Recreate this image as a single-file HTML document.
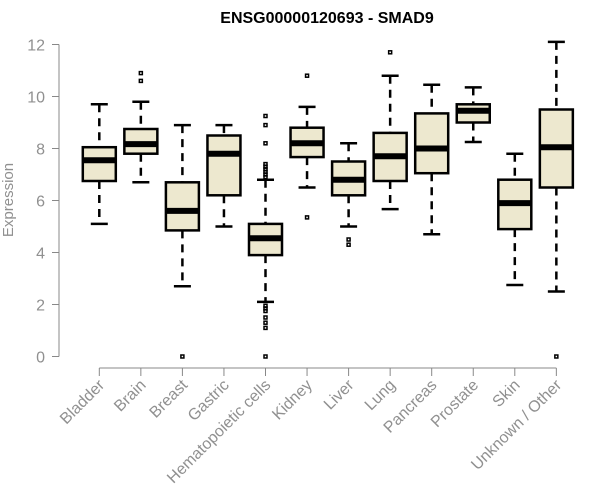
<!DOCTYPE html>
<html><head><meta charset="utf-8"><style>
body{margin:0;background:#fff}
svg{display:block;font-family:"Liberation Sans",Arial,sans-serif}
</style></head><body>
<svg id="chart" width="600" height="500" viewBox="0 0 600 500">
<text x="327" y="23" text-anchor="middle" font-weight="bold" font-size="16" fill="#000">ENSG00000120693 - SMAD9</text>
<text transform="translate(13,200) rotate(-90)" text-anchor="middle" font-size="15" fill="#909090">Expression</text>
<g id="yaxis"></g>
<g id="xaxis"></g>
<g id="boxes"></g>
</svg>
<script>
const categories=["Bladder","Brain","Breast","Gastric","Hematopoietic cells","Kidney","Liver","Lung","Pancreas","Prostate","Skin","Unknown / Other"];
const whiskerLow=[5.1,6.7,2.7,5.0,2.1,6.5,5.0,5.67,4.7,8.25,2.75,2.5];
const q1=[6.75,7.8,4.85,6.2,3.9,7.67,6.2,6.75,7.05,9.0,4.9,6.5];
const median=[7.55,8.17,5.6,7.8,4.55,8.2,6.8,7.7,8.0,9.45,5.9,8.05];
const q3=[8.05,8.75,6.7,8.5,5.1,8.8,7.5,8.6,9.35,9.7,6.8,9.5];
const whiskerHigh=[9.7,9.8,8.9,8.9,6.8,9.6,8.2,10.8,10.45,10.35,7.8,12.1];
const outliers=[[],[10.9,10.6],[0],[],[9.25,8.9,8.2,7.4,7.3,7.2,7.1,7.0,6.9,1.95,1.85,1.75,1.5,1.3,1.1,0],[10.8,5.35],[4.5,4.3],[11.7],[],[],[],[0]];
const yTicks=[0,2,4,6,8,10,12];
const NS="http://www.w3.org/2000/svg";
function y(v){return 356.5-v*26;}
function x(i){return 99.3+i*41.55;}
function mk(tag,attrs,parent){const e=document.createElementNS(NS,tag);for(const k in attrs)e.setAttribute(k,attrs[k]);parent.appendChild(e);return e;}
const ya=document.getElementById('yaxis');
const xa=document.getElementById('xaxis');
const bx=document.getElementById('boxes');
let l=mk('line',{x1:59,x2:59,y1:y(12),y2:y(0),stroke:'#888','stroke-width':1},ya);


yTicks.forEach(t=>{
 let tk=mk('line',{x1:52,x2:59,y1:y(t),y2:y(t),stroke:'#888'},ya);
 
 
 let tx=mk('text',{x:45,y:y(t)+6,'text-anchor':'end','font-size':16,fill:'#909090'},ya);
 tx.textContent=t;
 
 
});
let xl=mk('line',{x1:x(0),x2:x(categories.length-1),y1:368,y2:368,stroke:'#888'},xa);


categories.forEach((c,i)=>{
 const cx=x(i);
 let tk=mk('line',{x1:cx,x2:cx,y1:368,y2:376,stroke:'#888'},xa);
 
 
 let tx=mk('text',{transform:`translate(${cx+6},${386}) rotate(-45)`,'text-anchor':'end','font-size':16,fill:'#909090'},xa);
 tx.textContent=c;
 
 
 const g=mk('g',{},bx);
 
 
 mk('line',{x1:cx,x2:cx,y1:y(whiskerHigh[i]),y2:y(q3[i]),stroke:'#000','stroke-width':2.5,'stroke-dasharray':'8,6'},g);
 mk('line',{x1:cx,x2:cx,y1:y(q1[i]),y2:y(whiskerLow[i]),stroke:'#000','stroke-width':2.5,'stroke-dasharray':'8,6'},g);
 mk('line',{x1:cx-8.5,x2:cx+8.5,y1:y(whiskerHigh[i]),y2:y(whiskerHigh[i]),stroke:'#000','stroke-width':2.5},g);
 mk('line',{x1:cx-8.5,x2:cx+8.5,y1:y(whiskerLow[i]),y2:y(whiskerLow[i]),stroke:'#000','stroke-width':2.5},g);
 mk('rect',{x:cx-16.5,y:y(q3[i]),width:33,height:y(q1[i])-y(q3[i]),fill:'#ede8cf',stroke:'#000','stroke-width':2.5},g);
 mk('line',{x1:cx-16.5,x2:cx+16.5,y1:y(median[i]),y2:y(median[i]),stroke:'#000','stroke-width':6},g);
 outliers[i].forEach(o=>{
  let p=mk('rect',{x:cx-1.5,y:y(o)-1.5,width:3,height:3,fill:'none',stroke:'#000','stroke-width':1.5},g);
  
  
 });
});
</script>
</body></html>
